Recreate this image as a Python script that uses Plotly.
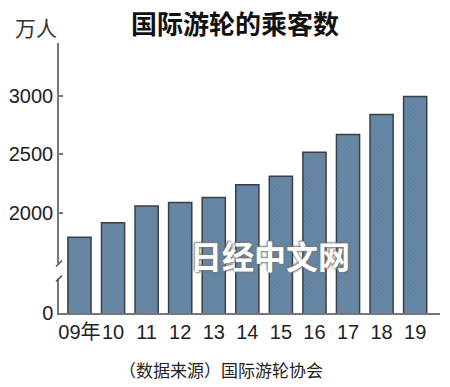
import plotly.graph_objects as go

years = ["09年", "10", "11", "12", "13", "14", "15", "16", "17", "18", "19"]
passengers = [1790, 1914, 2057, 2088, 2131, 2240, 2311, 2517, 2669, 2840, 2995]
tick_vals = [1142, 2000, 2500, 3000]
tick_text = ["0", "2000", "2500", "3000"]
axis_floor = 1142
axis_top = 3452
break_vals = [1565, 1437]

num_font = "Liberation Sans Narrow, Liberation Sans, Noto Sans CJK SC, sans-serif"
cjk_font = "Noto Sans CJK SC, sans-serif"

fig = go.Figure()
fig.add_trace(go.Bar(
    x=list(range(len(years))),
    y=passengers,
    width=0.69,
    marker=dict(
        color="#6384a2",
        line=dict(color="#3a3f46", width=1.5),
        pattern=dict(shape="x", fgcolor="#4d6985", bgcolor="#6788a6", size=3, solidity=0.25),
    ),
    hoverinfo="x+y",
))

shapes = []
# axis break: gap and slashes on the y axis
shapes.append(dict(type="line", xref="paper", yref="y", x0=0, x1=0,
                   y0=break_vals[1], y1=break_vals[0], line=dict(color="white", width=4)))
for v in break_vals:
    shapes.append(dict(type="line", xref="paper", yref="y", x0=-0.008, x1=0.008,
                       y0=v - 25, y1=v + 25, line=dict(color="#555", width=1.5)))

fig.update_layout(
    width=450, height=387,
    margin=dict(l=59, r=10, t=43, b=74),
    paper_bgcolor="white", plot_bgcolor="white",
    showlegend=False,
    bargap=0.3,
    xaxis=dict(
        range=[-0.61, 10.74], automargin=False, tickangle=0,
        tickmode="array", tickvals=list(range(len(years))), ticktext=years,
        tickfont=dict(family=num_font, size=20, color="#222"),
        showline=True, linecolor="#777", linewidth=1.5,
        ticks="", showgrid=False, zeroline=False,
    ),
    yaxis=dict(
        range=[axis_floor, axis_top], automargin=False,
        tickmode="array", tickvals=tick_vals, ticktext=tick_text,
        tickfont=dict(family=num_font, size=20, color="#222"),
        showline=True, linecolor="#777", linewidth=1.5,
        ticks="inside", ticklen=4, tickcolor="#777", tickwidth=1.5,
        showgrid=False, zeroline=False,
    ),
    shapes=shapes,
    annotations=[
        dict(text="<b>国际游轮的乘客数</b>", xref="paper", yref="paper",
             x=(235 - 59) / 381, y=1, xanchor="center", yanchor="middle",
             yshift=43 - 22, showarrow=False,
             font=dict(family=cjk_font, size=26, color="#111")),
        dict(text="万人", xref="paper", yref="paper", x=0, y=1,
             xanchor="center", yanchor="middle", xshift=-23, yshift=43 - 27,
             showarrow=False, font=dict(family=cjk_font, size=21, color="#333")),
        dict(text="（数据来源）国际游轮协会", xref="paper", yref="paper",
             x=(221 - 59) / 381, y=0, xanchor="center", yanchor="middle",
             yshift=-(369 - 313), showarrow=False,
             font=dict(family=cjk_font, size=17, color="#222")),
        dict(text="<b>日经中文网</b>", xref="paper", yref="paper",
             x=(270 - 59) / 381, y=(313 - 255) / 270, xanchor="center", yanchor="middle",
             showarrow=False,
             font=dict(family=cjk_font, size=32, color="white",
                       shadow="1px 1px 2px #777, -1px -1px 2px #777")),
    ],
)

fig.write_html("out.html", config={"displayModeBar": False},
               post_script="document.body.style.margin='0';document.body.style.overflow='hidden';")
